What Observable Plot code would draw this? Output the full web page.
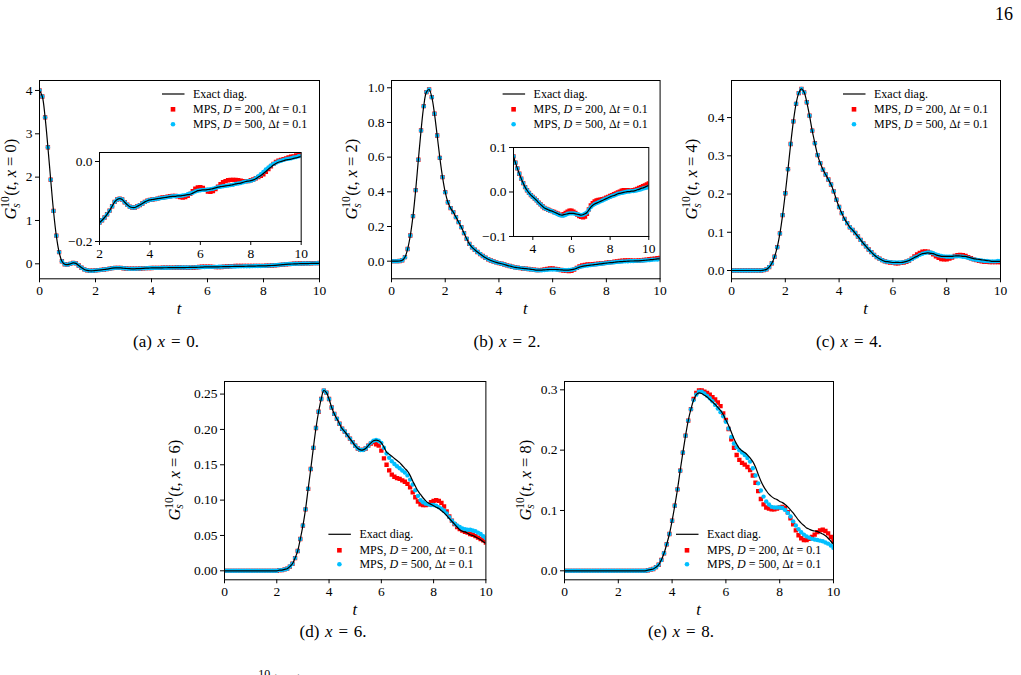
<!DOCTYPE html>
<html>
<head>
<meta charset="utf-8">
<script src="https://cdn.jsdelivr.net/npm/d3@7"></script>
<script src="https://cdn.jsdelivr.net/npm/@observablehq/plot@0.6"></script>
<style>
  html, body { margin: 0; padding: 0; background: #fff; }
  #page { position: relative; width: 1021px; height: 675px; overflow: hidden; background: #fff; }
  #page svg { position: absolute; overflow: visible; }
</style>
</head>
<body>
<div id="page"></div>
<script>
// Time grid of the simulation: Δt = 0.1 from t = 0 to t = 10
const t = d3.range(0, 101).map(i => i / 10);

// ---- G_s^10(t, x = 0) ----
const exactX0 = [
  4.00,3.86,3.38,2.69,1.94,1.22,0.65,0.27,0.06,-0.01,
  -0.02,0.00,0.02,0.01,-0.04,-0.09,-0.13,-0.15,-0.16,-0.16,
  -0.153,-0.147,-0.140,-0.132,-0.123,-0.112,-0.101,-0.095,-0.093,-0.095,
  -0.102,-0.108,-0.113,-0.115,-0.115,-0.112,-0.109,-0.105,-0.101,-0.098,
  -0.096,-0.095,-0.094,-0.093,-0.092,-0.091,-0.090,-0.089,-0.088,-0.087,
  -0.087,-0.086,-0.086,-0.085,-0.084,-0.083,-0.082,-0.079,-0.076,-0.073,
  -0.072,-0.071,-0.071,-0.070,-0.069,-0.068,-0.066,-0.064,-0.063,-0.062,
  -0.061,-0.060,-0.059,-0.058,-0.056,-0.055,-0.054,-0.052,-0.050,-0.049,
  -0.048,-0.046,-0.043,-0.039,-0.035,-0.030,-0.025,-0.019,-0.014,-0.009,
  -0.005,-0.002,0.000,0.002,0.004,0.005,0.006,0.008,0.009,0.011,
  0.012];
const mps200X0 = [
  4.00,3.86,3.38,2.69,1.94,1.22,0.65,0.27,0.06,-0.01,
  -0.02,0.00,0.02,0.01,-0.04,-0.09,-0.13,-0.15,-0.16,-0.16,
  -0.153,-0.147,-0.140,-0.132,-0.123,-0.112,-0.101,-0.095,-0.093,-0.095,
  -0.102,-0.108,-0.113,-0.115,-0.115,-0.112,-0.109,-0.105,-0.101,-0.098,
  -0.096,-0.095,-0.094,-0.093,-0.091,-0.090,-0.089,-0.088,-0.087,-0.086,
  -0.086,-0.087,-0.089,-0.090,-0.089,-0.086,-0.081,-0.074,-0.068,-0.065,
  -0.064,-0.066,-0.071,-0.075,-0.076,-0.074,-0.069,-0.063,-0.057,-0.052,
  -0.049,-0.047,-0.046,-0.046,-0.046,-0.047,-0.048,-0.049,-0.049,-0.049,
  -0.047,-0.045,-0.042,-0.039,-0.036,-0.032,-0.026,-0.019,-0.012,-0.006,
  -0.001,0.002,0.004,0.006,0.008,0.010,0.012,0.013,0.015,0.017,
  0.019];
const mps500X0 = [
  4.00,3.86,3.38,2.69,1.94,1.22,0.65,0.27,0.06,-0.01,
  -0.02,0.00,0.02,0.01,-0.04,-0.09,-0.13,-0.15,-0.16,-0.16,
  -0.153,-0.147,-0.140,-0.132,-0.123,-0.112,-0.101,-0.095,-0.093,-0.095,
  -0.102,-0.108,-0.113,-0.115,-0.115,-0.112,-0.109,-0.105,-0.101,-0.098,
  -0.096,-0.095,-0.094,-0.093,-0.092,-0.091,-0.090,-0.089,-0.088,-0.087,
  -0.087,-0.086,-0.086,-0.085,-0.084,-0.082,-0.080,-0.078,-0.075,-0.073,
  -0.072,-0.071,-0.071,-0.070,-0.069,-0.068,-0.066,-0.064,-0.063,-0.062,
  -0.061,-0.060,-0.059,-0.058,-0.056,-0.055,-0.054,-0.052,-0.050,-0.049,
  -0.048,-0.046,-0.042,-0.037,-0.032,-0.026,-0.020,-0.015,-0.010,-0.006,
  -0.003,0.000,0.002,0.004,0.006,0.007,0.008,0.010,0.011,0.013,
  0.014];

// ---- G_s^10(t, x = 2) ----
const exactX2 = [
  0.000,0.000,0.000,0.001,0.005,0.023,0.070,0.148,0.260,0.410,
  0.585,0.754,0.894,0.975,0.990,0.946,0.850,0.725,0.596,0.485,
  0.398,0.340,0.306,0.283,0.254,0.225,0.196,0.162,0.129,0.100,
  0.080,0.066,0.053,0.041,0.030,0.020,0.011,0.004,-0.002,-0.007,
  -0.011,-0.015,-0.019,-0.024,-0.028,-0.032,-0.036,-0.038,-0.040,-0.042,
  -0.043,-0.045,-0.047,-0.049,-0.051,-0.052,-0.051,-0.050,-0.049,-0.048,
  -0.048,-0.048,-0.049,-0.050,-0.051,-0.052,-0.051,-0.049,-0.046,-0.040,
  -0.034,-0.030,-0.027,-0.025,-0.023,-0.021,-0.019,-0.017,-0.015,-0.013,
  -0.011,-0.009,-0.008,-0.006,-0.004,-0.003,-0.002,-0.001,0.000,0.001,
  0.001,0.002,0.002,0.003,0.005,0.006,0.008,0.009,0.011,0.013,
  0.015];
const mps200X2 = [
  0.000,0.000,0.000,0.001,0.005,0.023,0.070,0.148,0.260,0.410,
  0.585,0.754,0.894,0.975,0.990,0.946,0.850,0.725,0.596,0.485,
  0.398,0.340,0.306,0.283,0.254,0.225,0.196,0.162,0.129,0.100,
  0.080,0.066,0.053,0.041,0.030,0.020,0.011,0.004,-0.002,-0.007,
  -0.011,-0.015,-0.019,-0.024,-0.028,-0.032,-0.036,-0.038,-0.040,-0.042,
  -0.043,-0.045,-0.047,-0.049,-0.051,-0.052,-0.050,-0.047,-0.044,-0.042,
  -0.042,-0.044,-0.047,-0.051,-0.054,-0.056,-0.057,-0.055,-0.049,-0.039,
  -0.030,-0.025,-0.021,-0.019,-0.018,-0.017,-0.016,-0.015,-0.013,-0.011,
  -0.009,-0.007,-0.005,-0.003,-0.001,0.001,0.003,0.004,0.004,0.004,
  0.003,0.003,0.004,0.005,0.007,0.009,0.011,0.013,0.015,0.017,
  0.019];
const mps500X2 = [
  0.000,0.000,0.000,0.001,0.005,0.023,0.070,0.148,0.260,0.410,
  0.585,0.754,0.894,0.975,0.990,0.946,0.850,0.725,0.596,0.485,
  0.398,0.340,0.306,0.283,0.254,0.225,0.196,0.162,0.129,0.100,
  0.080,0.066,0.053,0.041,0.030,0.020,0.011,0.004,-0.002,-0.007,
  -0.011,-0.015,-0.019,-0.024,-0.028,-0.032,-0.036,-0.038,-0.040,-0.042,
  -0.043,-0.046,-0.048,-0.050,-0.052,-0.053,-0.053,-0.051,-0.049,-0.048,
  -0.048,-0.048,-0.049,-0.050,-0.051,-0.052,-0.051,-0.049,-0.046,-0.040,
  -0.034,-0.030,-0.027,-0.025,-0.023,-0.021,-0.019,-0.017,-0.015,-0.013,
  -0.011,-0.009,-0.008,-0.006,-0.004,-0.003,-0.002,-0.001,0.000,0.001,
  0.001,0.002,0.002,0.003,0.004,0.005,0.006,0.008,0.009,0.010,
  0.012];

// ---- G_s^10(t, x = 4) ----
const exactX4 = [
  0,0,0,0,0,0,0,0,0,0,
  0.000,0.000,0.001,0.003,0.009,0.019,0.036,0.061,0.097,0.145,
  0.202,0.265,0.331,0.390,0.436,0.464,0.475,0.466,0.440,0.405,
  0.366,0.333,0.302,0.281,0.264,0.251,0.238,0.225,0.207,0.185,
  0.166,0.150,0.135,0.124,0.113,0.106,0.098,0.089,0.080,0.071,
  0.063,0.055,0.048,0.041,0.035,0.031,0.027,0.024,0.023,0.022,
  0.021,0.021,0.021,0.021,0.022,0.024,0.026,0.030,0.034,0.037,
  0.041,0.044,0.045,0.046,0.045,0.044,0.041,0.039,0.037,0.037,
  0.037,0.037,0.037,0.038,0.038,0.038,0.037,0.037,0.035,0.033,
  0.031,0.030,0.029,0.028,0.027,0.026,0.025,0.024,0.024,0.024,
  0.024];
const mps200X4 = [
  0,0,0,0,0,0,0,0,0,0,
  0.000,0.000,0.001,0.003,0.009,0.019,0.036,0.061,0.097,0.145,
  0.202,0.265,0.331,0.390,0.436,0.464,0.475,0.466,0.440,0.405,
  0.366,0.333,0.302,0.281,0.264,0.251,0.238,0.225,0.207,0.185,
  0.166,0.150,0.135,0.124,0.113,0.106,0.098,0.089,0.080,0.071,
  0.063,0.055,0.048,0.041,0.035,0.031,0.027,0.024,0.022,0.021,
  0.020,0.019,0.019,0.020,0.021,0.023,0.026,0.031,0.037,0.042,
  0.046,0.049,0.050,0.049,0.046,0.042,0.037,0.033,0.030,0.029,
  0.029,0.031,0.034,0.038,0.040,0.041,0.040,0.038,0.035,0.032,
  0.029,0.027,0.025,0.024,0.023,0.023,0.022,0.022,0.022,0.022,
  0.022];
const mps500X4 = [
  0,0,0,0,0,0,0,0,0,0,
  0.000,0.000,0.001,0.003,0.009,0.019,0.036,0.061,0.097,0.145,
  0.202,0.265,0.331,0.390,0.436,0.464,0.475,0.466,0.440,0.405,
  0.366,0.333,0.302,0.281,0.264,0.251,0.238,0.225,0.207,0.185,
  0.166,0.150,0.135,0.124,0.113,0.106,0.098,0.089,0.080,0.071,
  0.063,0.055,0.048,0.041,0.035,0.031,0.027,0.024,0.023,0.022,
  0.021,0.021,0.021,0.021,0.022,0.024,0.026,0.030,0.034,0.037,
  0.041,0.044,0.046,0.047,0.047,0.045,0.042,0.040,0.038,0.037,
  0.036,0.036,0.036,0.037,0.037,0.037,0.036,0.035,0.033,0.031,
  0.029,0.028,0.027,0.026,0.025,0.025,0.024,0.024,0.024,0.025,
  0.025];

// ---- G_s^10(t, x = 6) ----
const exactX6 = [
  0,0,0,0,0,0,0,0,0,0,
  0,0,0,0,0,0,0,0,0,0,
  0.000,0.001,0.001,0.002,0.003,0.006,0.010,0.018,0.028,0.045,
  0.064,0.087,0.116,0.144,0.174,0.202,0.225,0.243,0.255,0.252,
  0.243,0.231,0.222,0.215,0.208,0.201,0.197,0.192,0.187,0.182,
  0.177,0.173,0.171,0.171,0.173,0.177,0.181,0.184,0.185,0.184,
  0.181,0.175,0.168,0.165,0.162,0.159,0.156,0.153,0.149,0.145,
  0.141,0.135,0.127,0.120,0.113,0.108,0.103,0.099,0.096,0.094,
  0.092,0.090,0.088,0.085,0.082,0.078,0.074,0.070,0.066,0.062,
  0.058,0.056,0.055,0.053,0.051,0.050,0.048,0.046,0.044,0.041,
  0.039];
const mps200X6 = [
  0,0,0,0,0,0,0,0,0,0,
  0,0,0,0,0,0,0,0,0,0,
  0.000,0.001,0.001,0.002,0.003,0.006,0.010,0.018,0.028,0.045,
  0.064,0.087,0.116,0.144,0.174,0.202,0.225,0.243,0.255,0.252,
  0.243,0.231,0.222,0.215,0.208,0.201,0.197,0.192,0.187,0.182,
  0.177,0.173,0.171,0.171,0.173,0.177,0.180,0.182,0.179,0.177,
  0.170,0.159,0.150,0.142,0.136,0.133,0.131,0.130,0.128,0.126,
  0.123,0.118,0.111,0.104,0.098,0.094,0.093,0.093,0.094,0.097,
  0.099,0.100,0.099,0.096,0.091,0.084,0.077,0.071,0.066,0.062,
  0.059,0.057,0.055,0.054,0.052,0.051,0.049,0.047,0.045,0.043,
  0.040];
const mps500X6 = [
  0,0,0,0,0,0,0,0,0,0,
  0,0,0,0,0,0,0,0,0,0,
  0.000,0.001,0.001,0.002,0.003,0.006,0.010,0.018,0.028,0.045,
  0.064,0.087,0.116,0.144,0.174,0.202,0.225,0.243,0.255,0.252,
  0.243,0.231,0.222,0.215,0.208,0.201,0.197,0.192,0.187,0.182,
  0.177,0.173,0.171,0.171,0.173,0.177,0.181,0.184,0.185,0.184,
  0.181,0.174,0.166,0.160,0.155,0.151,0.148,0.145,0.142,0.139,
  0.135,0.129,0.122,0.114,0.106,0.100,0.097,0.095,0.094,0.093,
  0.093,0.092,0.090,0.088,0.085,0.081,0.076,0.071,0.067,0.064,
  0.062,0.060,0.059,0.058,0.058,0.057,0.056,0.054,0.052,0.049,
  0.046];

// ---- G_s^10(t, x = 8) ----
const exactX8 = [
  0,0,0,0,0,0,0,0,0,0,
  0,0,0,0,0,0,0,0,0,0,
  0,0,0,0,0,0,0,0,0,0,
  0.000,0.001,0.002,0.003,0.006,0.010,0.018,0.029,0.044,0.061,
  0.083,0.108,0.135,0.166,0.196,0.224,0.249,0.268,0.283,0.292,
  0.295,0.294,0.291,0.288,0.284,0.280,0.276,0.271,0.266,0.259,
  0.250,0.241,0.230,0.219,0.210,0.203,0.199,0.196,0.192,0.187,
  0.181,0.172,0.160,0.149,0.140,0.133,0.127,0.123,0.120,0.118,
  0.115,0.113,0.110,0.106,0.101,0.096,0.090,0.084,0.079,0.075,
  0.071,0.069,0.067,0.066,0.065,0.063,0.061,0.058,0.054,0.049,
  0.044];
const mps200X8 = [
  0,0,0,0,0,0,0,0,0,0,
  0,0,0,0,0,0,0,0,0,0,
  0,0,0,0,0,0,0,0,0,0,
  0.000,0.001,0.002,0.003,0.006,0.010,0.018,0.029,0.044,0.061,
  0.083,0.108,0.135,0.166,0.196,0.224,0.249,0.268,0.285,0.295,
  0.299,0.299,0.297,0.295,0.292,0.288,0.284,0.279,0.273,0.261,
  0.250,0.235,0.218,0.204,0.192,0.184,0.179,0.176,0.172,0.167,
  0.158,0.146,0.132,0.119,0.110,0.105,0.103,0.102,0.102,0.103,
  0.105,0.106,0.104,0.097,0.087,0.077,0.067,0.059,0.054,0.051,
  0.051,0.053,0.056,0.060,0.064,0.067,0.068,0.066,0.062,0.056,
  0.049];
const mps500X8 = [
  0,0,0,0,0,0,0,0,0,0,
  0,0,0,0,0,0,0,0,0,0,
  0,0,0,0,0,0,0,0,0,0,
  0.000,0.001,0.002,0.003,0.006,0.010,0.018,0.029,0.044,0.061,
  0.083,0.108,0.135,0.166,0.196,0.224,0.249,0.268,0.283,0.292,
  0.297,0.297,0.294,0.290,0.286,0.281,0.275,0.269,0.263,0.256,
  0.247,0.236,0.222,0.211,0.205,0.200,0.196,0.192,0.187,0.181,
  0.170,0.158,0.145,0.133,0.123,0.115,0.110,0.106,0.105,0.105,
  0.105,0.104,0.101,0.096,0.090,0.082,0.075,0.069,0.064,0.060,
  0.057,0.055,0.053,0.052,0.051,0.050,0.049,0.047,0.045,0.042,
  0.038];

// Tick values
const tTicks = [0, 2, 4, 6, 8, 10];
const ticksX0 = [0, 1, 2, 3, 4];
const ticksX2 = [0, 0.2, 0.4, 0.6, 0.8, 1.0];
const ticksX4 = [0, 0.1, 0.2, 0.3, 0.4];
const ticksX6 = [0, 0.05, 0.10, 0.15, 0.20, 0.25];
const ticksX8 = [0, 0.1, 0.2, 0.3];
const insetTicksTX0 = [2, 4, 6, 8, 10];
const insetTicksGX0 = [-0.2, 0.0];
const insetTicksTX2 = [4, 6, 8, 10];
const insetTicksGX2 = [-0.1, 0.0, 0.1];

// Legend entries (*…* marks italic math symbols)
const seriesNames = ["Exact diag.", "MPS, *D* = 200, Δ*t* = 0.1", "MPS, *D* = 500, Δ*t* = 0.1"];
const captions = ["(a) *x* = 0.", "(b) *x* = 2.", "(c) *x* = 4.", "(d) *x* = 6.", "(e) *x* = 8."];
const positions = ["0", "2", "4", "6", "8"];

const FONT = '"Liberation Serif", "Times New Roman", serif';
const RED = "#ff0000", CYAN = "#00bfff";
const page = document.getElementById("page");

const fmt = dec => v => (v < -1e-12 ? "\u2212" : "") + Math.abs(v).toFixed(dec);
const rows = arr => t.map((ti, i) => ({t: ti, g: arr[i]}));

function rich(sel, str) {
  str.split("*").forEach((part, i) => {
    if (part) sel.append("tspan").attr("font-style", i % 2 ? "italic" : null).text(part);
  });
}

// One axes box: frame at page coordinates [L, R] x [T, B]
function drawAxes(p) {
  const mL = p.mL, mR = 14, mT = 10, mB = p.mB ?? 40;
  const ox = p.L - mL, oy = p.T - mT;
  const svg = Plot.plot({
    width: p.R - p.L + mL + mR,
    height: p.B - p.T + mT + mB,
    marginLeft: mL, marginRight: mR, marginTop: mT, marginBottom: mB,
    style: {fontFamily: FONT, fontSize: "13.5px", background: "transparent", overflow: "visible", color: "black"},
    x: {domain: p.xDomain},
    y: {domain: p.yDomain},
    marks: [
      p.inset ? Plot.frame({fill: "white", stroke: null}) : null,
      Plot.dot(rows(p.d200), {x: "t", y: "g", symbol: "square", r: 2.45, fill: RED, clip: true}),
      Plot.dot(rows(p.d500), {x: "t", y: "g", symbol: "circle", r: 2.2, fill: CYAN, clip: true}),
      Plot.line(rows(p.exact), {x: "t", y: "g", stroke: "black", strokeWidth: 1.2, curve: "catmull-rom", clip: true}),
      Plot.frame({stroke: "black", strokeWidth: 1}),
      Plot.axisX({ticks: p.xTicks, tickSize: 4, tickPadding: 3, tickFormat: fmt(0), label: null}),
      Plot.axisY({ticks: p.yTicks, tickSize: 4, tickPadding: 3, tickFormat: fmt(p.yDec), label: null})
    ]
  });
  svg.style.left = ox + "px";
  svg.style.top = oy + "px";
  page.appendChild(svg);
  return {sel: d3.select(svg), ox, oy};
}

function yLabel(ax, cx, cy, xs) {
  const txt = ax.sel.append("text")
    .attr("transform", `translate(${cx - ax.ox},${cy - ax.oy}) rotate(-90)`)
    .attr("text-anchor", "middle")
    .attr("font-family", FONT).attr("font-size", 16.5).attr("fill", "black");
  txt.append("tspan").attr("font-style", "italic").text("G");
  txt.append("tspan").attr("font-size", 11.5).attr("dy", -7).text("10");
  txt.append("tspan").attr("font-size", 11.5).attr("font-style", "italic").attr("dx", -11.5).attr("dy", 10.5).text("s");
  txt.append("tspan").attr("dx", 7.5).attr("dy", -3.5).text("(");
  txt.append("tspan").attr("font-style", "italic").text("t");
  txt.append("tspan").text(", ");
  txt.append("tspan").attr("font-style", "italic").text("x");
  txt.append("tspan").text(` = ${xs})`);
}

function tLabel(ax, p) {
  ax.sel.append("text")
    .attr("x", (p.L + p.R) / 2 - ax.ox).attr("y", p.B + 30 - ax.oy)
    .attr("text-anchor", "middle").attr("dominant-baseline", "central")
    .attr("font-family", FONT).attr("font-size", 16.5).attr("font-style", "italic").text("t");
}

function legend(ax, textX, ys) {
  const g = ax.sel.append("g").attr("transform", `translate(${-ax.ox},${-ax.oy})`)
    .attr("font-family", FONT).attr("font-size", 12).attr("text-anchor", "start");
  const hx = textX - 20;
  g.append("line").attr("x1", textX - 31).attr("x2", textX - 8.5).attr("y1", ys[0]).attr("y2", ys[0])
    .attr("stroke", "black").attr("stroke-width", 1.2);
  g.append("rect").attr("x", hx - 2.3).attr("y", ys[1] - 2.3).attr("width", 4.6).attr("height", 4.6).attr("fill", RED);
  g.append("circle").attr("cx", hx).attr("cy", ys[2]).attr("r", 2.3).attr("fill", CYAN);
  seriesNames.forEach((s, i) => {
    const tx = g.append("text").attr("x", textX).attr("y", ys[i])
      .attr("text-anchor", "start").attr("dominant-baseline", "central");
    rich(tx, s);
  });
}

// Page-level text layer (captions, page number)
const textLayer = d3.select(page).append("svg")
  .attr("width", 1021).attr("height", 675)
  .style("left", "0px").style("top", "0px")
  .attr("font-family", FONT);
textLayer.append("text").attr("x", 1013).attr("y", 20).attr("text-anchor", "end").attr("font-size", 18).text("16");
const capPos = [[166, 341], [507, 341], [849, 341], [333, 631], [681, 631]];
captions.forEach((c, i) => {
  const tx = textLayer.append("text").attr("x", capPos[i][0]).attr("y", capPos[i][1])
    .attr("text-anchor", "middle").attr("dominant-baseline", "central").attr("font-size", 17)
    .attr("word-spacing", 1.5);
  rich(tx, c);
});
// start of the next line of the figure caption, cut by the page edge
const nextLine = textLayer.append("text").attr("x", 246).attr("y", 686).attr("font-size", 17);
nextLine.append("tspan").attr("font-style", "italic").text("G");
nextLine.append("tspan").attr("font-size", 12).attr("dy", -8).text("10");
nextLine.append("tspan").attr("font-size", 12).attr("font-style", "italic").attr("dx", -12).attr("dy", 11).text("s");
nextLine.append("tspan").attr("dx", 8).attr("dy", -3).text("(");
nextLine.append("tspan").attr("font-style", "italic").text("t");
nextLine.append("tspan").text(", ");
nextLine.append("tspan").attr("font-style", "italic").text("x");
nextLine.append("tspan").text(")");

// Panel definitions
const panels = [
  {L: 39, R: 319, T: 80, B: 278.3, mL: 39, xDomain: [0, 10], yDomain: [-0.346, 4.23], xTicks: tTicks, yTicks: ticksX0, yDec: 0,
   exact: exactX0, d200: mps200X0, d500: mps500X0, labelX: 16, legendTop: true,
   inset: {L: 99.3, R: 301, T: 151.7, B: 240.7, xDomain: [2, 10], yDomain: [-0.2, 0.0225], xTicks: insetTicksTX0, yTicks: insetTicksGX0, yDec: 1}},
  {L: 390.7, R: 659.3, T: 80, B: 278.3, mL: 60, xDomain: [0, 10], yDomain: [-0.1015, 1.042], xTicks: tTicks, yTicks: ticksX2, yDec: 1,
   exact: exactX2, d200: mps200X2, d500: mps500X2, labelX: 357, legendTop: true,
   inset: {L: 513, R: 648.3, T: 146.7, B: 235.7, xDomain: [3, 10], yDomain: [-0.1, 0.1], xTicks: insetTicksTX2, yTicks: insetTicksGX2, yDec: 1}},
  {L: 731, R: 1000, T: 80, B: 278.3, mL: 60, xDomain: [0, 10], yDomain: [-0.0217, 0.497], xTicks: tTicks, yTicks: ticksX4, yDec: 1,
   exact: exactX4, d200: mps200X4, d500: mps500X4, labelX: 697, legendTop: true},
  {L: 224.3, R: 485.7, T: 380.7, B: 579, mL: 70, xDomain: [0, 10], yDomain: [-0.0127, 0.2678], xTicks: tTicks, yTicks: ticksX6, yDec: 2,
   exact: exactX6, d200: mps200X6, d500: mps500X6, labelX: 180, legendTop: false},
  {L: 564.3, R: 833.3, T: 380.7, B: 579, mL: 60, xDomain: [0, 10], yDomain: [-0.0149, 0.3138], xTicks: tTicks, yTicks: ticksX8, yDec: 1,
   exact: exactX8, d200: mps200X8, d500: mps500X8, labelX: 531, legendTop: false}
];

panels.forEach((p, i) => {
  const ax = drawAxes(p);
  yLabel(ax, p.labelX, (p.T + p.B) / 2, positions[i]);
  tLabel(ax, p);
  const textX = p.R - 126;
  const ys = p.legendTop ? [p.T + 14, p.T + 29.3, p.T + 44.3] : [p.B - 45, p.B - 29, p.B - 15];
  legend(ax, textX, ys);
  if (p.inset) {
    drawAxes({...p.inset, mL: 40, mB: 26, inset: true, exact: p.exact, d200: p.d200, d500: p.d500});
  }
});
</script>
</body>
</html>
